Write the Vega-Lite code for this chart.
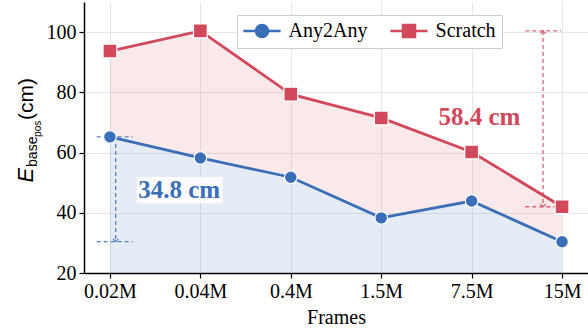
{
  "$schema": "https://vega.github.io/schema/vega-lite/v6.json",
  "width": 504,
  "height": 271,
  "autosize": "none",
  "padding": {"left": 84, "top": 2, "right": 0, "bottom": 57},
  "background": "white",
  "resolve": {"legend": {"color": "independent"}},
  "datasets": {
    "main": [
      {"frames": "0.02M", "idx": 0, "Any2Any": 65.2, "Scratch": 93.7},
      {"frames": "0.04M", "idx": 1, "Any2Any": 58.2, "Scratch": 100.4},
      {"frames": "0.4M", "idx": 2, "Any2Any": 51.8, "Scratch": 79.4},
      {"frames": "1.5M", "idx": 3, "Any2Any": 38.3, "Scratch": 71.5},
      {"frames": "7.5M", "idx": 4, "Any2Any": 43.9, "Scratch": 60.2},
      {"frames": "15M", "idx": 5, "Any2Any": 30.4, "Scratch": 42.0}
    ],
    "segs": [
      {"series": "Any2Any", "x": 0.063, "x2": 0.063, "y": 65.2, "y2": 30.4},
      {"series": "Any2Any", "x": -0.147, "x2": 0.253, "y": 65.2, "y2": 65.2},
      {"series": "Any2Any", "x": -0.147, "x2": 0.253, "y": 30.4, "y2": 30.4},
      {"series": "Scratch", "x": 4.79, "x2": 4.79, "y": 100.4, "y2": 42.0},
      {"series": "Scratch", "x": 4.593, "x2": 4.99, "y": 100.4, "y2": 100.4},
      {"series": "Scratch", "x": 4.593, "x2": 4.99, "y": 42.0, "y2": 42.0}
    ],
    "heads": [
      {"series": "Any2Any", "x": 0.063, "y": 65.2, "dir": "up"},
      {"series": "Any2Any", "x": 0.063, "y": 30.4, "dir": "down"},
      {"series": "Scratch", "x": 4.79, "y": 100.4, "dir": "up"},
      {"series": "Scratch", "x": 4.79, "y": 42.0, "dir": "down"}
    ],
    "labels": [
      {"series": "Any2Any", "x": 0.766, "y": 47.6, "label": "34.8 cm"},
      {"series": "Scratch", "x": 4.086, "y": 71.8, "label": "58.4 cm"}
    ]
  },
  "layer": [
    {
      "data": {"name": "main"},
      "mark": {"type": "area", "color": "#d1495b", "opacity": 0.12},
      "encoding": {
        "x": {"field": "idx", "type": "quantitative", "scale": {"domain": [-0.287, 5.287], "nice": false, "zero": false},
          "axis": {"values": [0, 1, 2, 3, 4, 5], "labelExpr": "['0.02M','0.04M','0.4M','1.5M','7.5M','15M'][datum.value]", "title": "Frames", "grid": true}},
        "y": {"field": "Scratch", "type": "quantitative", "scale": {"domain": [20, 110], "nice": false, "zero": false},
          "axis": {"values": [20, 40, 60, 80, 100], "title": null, "grid": true}},
        "y2": {"field": "Any2Any"}
      }
    },
    {
      "data": {"name": "main"},
      "mark": {"type": "area", "color": "#3a6fb7", "opacity": 0.13},
      "encoding": {
        "x": {"field": "idx", "type": "quantitative"},
        "y": {"field": "Any2Any", "type": "quantitative"},
        "y2": {"datum": 20}
      }
    },
    {
      "data": {"name": "segs"},
      "mark": {"type": "rule", "strokeDash": [4, 3], "strokeWidth": 1.3, "opacity": 0.85},
      "encoding": {
        "x": {"field": "x", "type": "quantitative"},
        "x2": {"field": "x2"},
        "y": {"field": "y", "type": "quantitative"},
        "y2": {"field": "y2"},
        "color": {"field": "series", "type": "nominal", "legend": null}
      }
    },
    {
      "data": {"name": "heads"},
      "transform": [{"filter": "datum.dir == 'up'"}],
      "mark": {"type": "point", "filled": false, "strokeWidth": 1.2, "size": 30, "opacity": 0.85, "shape": "M-1,1L0,0L1,1"},
      "encoding": {
        "x": {"field": "x", "type": "quantitative"},
        "y": {"field": "y", "type": "quantitative"},
        "color": {"field": "series", "type": "nominal", "legend": null}
      }
    },
    {
      "data": {"name": "heads"},
      "transform": [{"filter": "datum.dir == 'down'"}],
      "mark": {"type": "point", "filled": false, "strokeWidth": 1.2, "size": 30, "opacity": 0.85, "shape": "M-1,-1L0,0L1,-1"},
      "encoding": {
        "x": {"field": "x", "type": "quantitative"},
        "y": {"field": "y", "type": "quantitative"},
        "color": {"field": "series", "type": "nominal", "legend": null}
      }
    },
    {
      "data": {"name": "main"},
      "transform": [{"fold": ["Any2Any", "Scratch"], "as": ["series", "value"]}],
      "mark": {"type": "line", "strokeWidth": 2.8},
      "encoding": {
        "x": {"field": "idx", "type": "quantitative"},
        "y": {"field": "value", "type": "quantitative"},
        "color": {"field": "series", "type": "nominal",
          "scale": {"domain": ["Any2Any", "Scratch"], "range": ["#3a6fb7", "#d1495b"]},
          "legend": {
            "orient": "none", "legendX": 153, "legendY": 13, "direction": "horizontal", "title": null,
            "labelFont": "Liberation Serif", "labelFontSize": 20, "labelColor": "black", "labelOffset": 16.6,
            "labelExpr": "datum.label == 'Scratch' ? 'Scratch\u00a0\u00a0\u00a0' : datum.label",
            "symbolOffset": 9,
            "columnPadding": 17, "padding": 6, "strokeColor": "#cccccc", "fillColor": "white", "cornerRadius": 0,
            "symbolSize": 144, "symbolStrokeWidth": 2.5,
            "encode": {"symbols": {"update": {
              "shape": {"signal": "datum.value == 'Any2Any' ? 'M-3.1,0H3.1M-1,0A1,1,0,1,1,1,0A1,1,0,1,1,-1,0Z' : 'M-3.1,0H3.1M-1,-1H1V1H-1Z'"},
              "fill": {"signal": "scale('color', datum.value)"},
              "stroke": {"signal": "scale('color', datum.value)"},
              "opacity": {"value": 1}
            }}}
          }}
      }
    },
    {
      "data": {"name": "main"},
      "mark": {"type": "point", "filled": true, "opacity": 1, "stroke": "white", "strokeWidth": 1.2, "shape": "circle", "size": 160},
      "encoding": {
        "x": {"field": "idx", "type": "quantitative"},
        "y": {"field": "Any2Any", "type": "quantitative"},
        "color": {"datum": "Any2Any", "type": "nominal", "legend": null}
      }
    },
    {
      "data": {"name": "main"},
      "mark": {"type": "point", "filled": true, "opacity": 1, "stroke": "white", "strokeWidth": 1.2, "shape": "square", "size": 190},
      "encoding": {
        "x": {"field": "idx", "type": "quantitative"},
        "y": {"field": "Scratch", "type": "quantitative"},
        "color": {"datum": "Scratch", "type": "nominal", "legend": null}
      }
    },
    {
      "data": {"values": [{"x": 0.297, "x2": 1.244, "y": 43.2, "y2": 51.9}]},
      "mark": {"type": "rect", "color": "white", "opacity": 0.85},
      "encoding": {
        "x": {"field": "x", "type": "quantitative"},
        "x2": {"field": "x2"},
        "y": {"field": "y", "type": "quantitative"},
        "y2": {"field": "y2"}
      }
    },
    {
      "data": {"name": "labels"},
      "mark": {"type": "text", "font": "Liberation Serif", "fontWeight": "bold", "fontSize": 25, "baseline": "middle", "align": "center"},
      "encoding": {
        "x": {"field": "x", "type": "quantitative"},
        "y": {"field": "y", "type": "quantitative"},
        "text": {"field": "label"},
        "color": {"field": "series", "type": "nominal", "legend": null}
      }
    },
    {
      "data": {"values": [{"x": -0.848, "y": 54.9, "t": "E"}]},
      "mark": {"type": "text", "font": "Liberation Sans", "fontStyle": "italic", "fontSize": 22, "angle": 270, "align": "right", "baseline": "alphabetic", "color": "black"},
      "encoding": {"x": {"field": "x", "type": "quantitative"}, "y": {"field": "y", "type": "quantitative"}, "text": {"field": "t"}}
    },
    {
      "data": {"values": [{"x": -0.848, "y": 54.9, "t": "base"}]},
      "mark": {"type": "text", "font": "Liberation Sans", "fontSize": 14, "angle": 270, "align": "left", "baseline": "alphabetic", "dx": 1, "dy": 4, "color": "black"},
      "encoding": {"x": {"field": "x", "type": "quantitative"}, "y": {"field": "y", "type": "quantitative"}, "text": {"field": "t"}}
    },
    {
      "data": {"values": [{"x": -0.848, "y": 54.9, "t": "pos"}]},
      "mark": {"type": "text", "font": "Liberation Sans", "fontSize": 10, "angle": 270, "align": "left", "baseline": "alphabetic", "dx": 31, "dy": 8, "color": "black"},
      "encoding": {"x": {"field": "x", "type": "quantitative"}, "y": {"field": "y", "type": "quantitative"}, "text": {"field": "t"}}
    },
    {
      "data": {"values": [{"x": -0.848, "y": 54.9, "t": "(cm)"}]},
      "mark": {"type": "text", "font": "Liberation Sans", "fontSize": 21, "angle": 270, "align": "left", "baseline": "alphabetic", "dx": 48, "dy": 0, "color": "black"},
      "encoding": {"x": {"field": "x", "type": "quantitative"}, "y": {"field": "y", "type": "quantitative"}, "text": {"field": "t"}}
    }
  ],
  "config": {
    "view": {"stroke": null},
    "axis": {
      "domainColor": "black", "domainWidth": 1.5, "tickColor": "black", "tickSize": 5, "tickWidth": 1.2,
      "labelFont": "Liberation Serif", "labelFontSize": 20, "labelColor": "black", "labelPadding": 3,
      "titleFont": "Liberation Serif", "titleFontSize": 20, "titleFontWeight": "normal", "titleColor": "black", "titlePadding": 6,
      "gridColor": "#e6e6e6", "gridWidth": 1
    },
    "axisX": {"labelFlush": false, "labelOverlap": false},
    "axisY": {"labelPadding": 3}
  }
}
